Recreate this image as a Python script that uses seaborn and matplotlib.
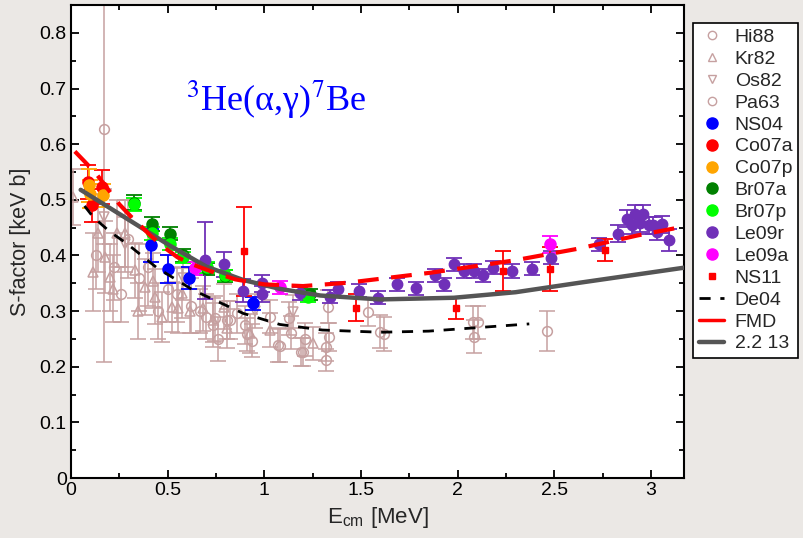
import numpy as np
import pandas as pd
import matplotlib
matplotlib.use('Agg')
import matplotlib.pyplot as plt
from matplotlib.lines import Line2D
import seaborn as sns

sns.set_theme(style='ticks')
plt.rcParams['font.family'] = ['Liberation Sans', 'DejaVu Sans']
plt.rcParams['mathtext.fontset'] = 'stix'

### data (E_cm in MeV, S in keV b, error)
hi88_e = [0.667, 0.736, 0.745, 0.805, 0.822, 0.857, 0.90, 0.909, 0.935, 1.03, 1.07, 1.08,
          1.13, 1.14, 1.19, 1.20, 1.21, 1.32, 1.32, 1.33, 1.336, 1.535, 1.60, 1.62,
          2.078, 2.086, 2.107, 2.46]
hi88_s = [0.300, 0.275, 0.287, 0.284, 0.284, 0.296, 0.275, 0.258, 0.247, 0.290, 0.239, 0.238,
          0.287, 0.261, 0.227, 0.227, 0.249, 0.236, 0.212, 0.308, 0.254, 0.299, 0.263, 0.259,
          0.280, 0.254, 0.280, 0.264]
hi88_err = [0.04, 0.04, 0.04, 0.035, 0.035, 0.035, 0.035, 0.03, 0.03, 0.03, 0.03, 0.03,
            0.03, 0.03, 0.025, 0.025, 0.03, 0.025, 0.02, 0.03, 0.025, 0.025, 0.03, 0.03,
            0.03, 0.03, 0.03, 0.036]

kr82_e = [0.012, 0.115, 0.141, 0.176, 0.200, 0.219, 0.236, 0.280, 0.330, 0.348, 0.383, 0.426,
          0.434, 0.470, 0.520, 0.555, 0.573, 0.615, 0.684, 0.736, 0.790, 0.805, 0.926, 1.03, 1.25]
kr82_s = [0.505, 0.370, 0.440, 0.397, 0.361, 0.340, 0.440, 0.440, 0.373, 0.300, 0.343, 0.355,
          0.326, 0.290, 0.307, 0.305, 0.332, 0.300, 0.305, 0.284, 0.308, 0.269, 0.260, 0.266, 0.242]
kr82_err = [0.05, 0.07, 0.07, 0.065, 0.06, 0.06, 0.06, 0.06, 0.05, 0.05, 0.05, 0.05,
            0.05, 0.045, 0.045, 0.045, 0.045, 0.04, 0.04, 0.04, 0.04, 0.035, 0.035, 0.03, 0.03]

os82_e = [0.17, 0.28, 0.58, 0.95, 1.15]
os82_s = [0.470, 0.420, 0.360, 0.300, 0.299]
os82_err = [0.05, 0.05, 0.04, 0.03, 0.03]

pa63_e = [0.13, 0.17, 0.22, 0.26, 0.297, 0.35, 0.40, 0.45, 0.50, 0.55, 0.62, 0.70, 0.76]
pa63_s = [0.400, 0.628, 0.380, 0.330, 0.430, 0.360, 0.380, 0.300, 0.340, 0.330, 0.310, 0.290, 0.250]
pa63_err = [0.06, 0.42, 0.06, 0.05, 0.07, 0.06, 0.07, 0.05, 0.06, 0.05, 0.05, 0.04, 0.04]

ns04_e = [0.414, 0.50, 0.61, 0.94]
ns04_s = [0.418, 0.376, 0.360, 0.314]
ns04_err = [0.03, 0.025, 0.02, 0.012]

co07a_e = [0.086, 0.107, 0.159]
co07a_s = [0.532, 0.490, 0.523]
co07a_err = [0.03, 0.03, 0.03]

co07p_e = [0.093, 0.100, 0.167]
co07p_s = [0.526, 0.511, 0.508]
co07p_err = [0.03, 0.025, 0.02]

br07a_e = [0.327, 0.420, 0.512, 0.581, 0.701, 0.794, 1.235]
br07a_s = [0.495, 0.457, 0.439, 0.400, 0.375, 0.363, 0.330]
br07a_err = [0.014, 0.013, 0.012, 0.011, 0.011, 0.01, 0.01]

br07p_e = [0.326, 0.420, 0.512, 0.581, 0.701, 0.794, 1.228]
br07p_s = [0.492, 0.440, 0.420, 0.397, 0.379, 0.364, 0.326]
br07p_err = [0.012, 0.012, 0.011, 0.01, 0.01, 0.01, 0.01]

le09r_e = [0.695, 0.79, 0.888, 0.99, 0.99, 1.185, 1.34, 1.383, 1.49, 1.587, 1.685, 1.785,
           1.883, 1.93, 1.983, 2.035, 2.086, 2.13, 2.18, 2.283, 2.383, 2.483, 2.73, 2.83,
           2.875, 2.90, 2.918, 2.945, 2.96, 2.987, 3.01, 3.03, 3.055, 3.094]
le09r_s = [0.391, 0.384, 0.337, 0.350, 0.331, 0.332, 0.326, 0.340, 0.337, 0.324, 0.348, 0.341,
           0.364, 0.348, 0.384, 0.372, 0.372, 0.364, 0.378, 0.372, 0.376, 0.396, 0.420, 0.439,
           0.466, 0.454, 0.475, 0.458, 0.475, 0.454, 0.454, 0.442, 0.456, 0.428]
le09r_err = [0.07, 0.022, 0.02, 0.015, 0.015, 0.012, 0.012, 0.012, 0.012, 0.012, 0.012, 0.012,
             0.012, 0.012, 0.012, 0.012, 0.012, 0.012, 0.012, 0.012, 0.012, 0.012, 0.012, 0.015,
             0.015, 0.015, 0.015, 0.015, 0.015, 0.015, 0.015, 0.015, 0.015, 0.02]

le09a_e = [0.64, 1.08, 2.478]
le09a_s = [0.377, 0.343, 0.420]
le09a_err = [0.012, 0.012, 0.015]

ns11_e = [0.893, 1.474, 1.99, 2.236, 2.475, 2.762]
ns11_s = [0.408, 0.306, 0.305, 0.372, 0.376, 0.410]
ns11_err = [0.08, 0.024, 0.02, 0.036, 0.04, 0.02]

de04_e = [0.07, 0.115, 0.20, 0.29, 0.44, 0.63, 0.89, 1.08, 1.30, 1.60, 1.85, 2.09, 2.37]
de04_s = [0.489, 0.469, 0.443, 0.421, 0.379, 0.338, 0.296, 0.276, 0.266, 0.262, 0.264, 0.270, 0.277]

fmd_e = [0.02, 0.07, 0.13, 0.20, 0.25, 0.31, 0.35, 0.41, 0.48, 0.55, 0.62, 0.72, 0.85, 1.00,
         1.20, 1.43, 1.86, 2.29, 2.62, 2.93, 3.17]
fmd_s = [0.587, 0.569, 0.547, 0.515, 0.492, 0.470, 0.457, 0.436, 0.415, 0.397, 0.385, 0.372,
         0.357, 0.348, 0.345, 0.351, 0.369, 0.391, 0.412, 0.436, 0.452]

m22_e = [0.05, 0.29, 0.51, 0.70, 0.89, 1.08, 1.29, 1.60, 1.98, 2.30, 2.63, 3.17]
m22_s = [0.518, 0.466, 0.418, 0.380, 0.356, 0.340, 0.328, 0.321, 0.324, 0.334, 0.351, 0.378]

brown = '#c6a0a0'

fig = plt.figure(figsize=(8.04, 5.38), dpi=100, facecolor='#ebe8e5')
ax = fig.add_axes([0.0883, 0.1115, 0.7624, 0.879])
ax.set_facecolor('white')

# old data sets, open symbols
for e, s, err, mk in [(hi88_e, hi88_s, hi88_err, 'o'), (kr82_e, kr82_s, kr82_err, '^'),
                      (os82_e, os82_s, os82_err, 'v'), (pa63_e, pa63_s, pa63_err, 'o')]:
    ax.errorbar(e, s, yerr=err, fmt=mk, ms=7, mfc='none', mec=brown, mew=1.1,
                ecolor=brown, elinewidth=1.1, capsize=6, capthick=1.1, zorder=2)

# newer data sets, filled symbols
sets = [(ns04_e, ns04_s, ns04_err, '#0000ff', 'o', 8),
        (co07a_e, co07a_s, co07a_err, '#ff0000', 'o', 8),
        (co07p_e, co07p_s, co07p_err, '#ffa500', 'o', 8),
        (br07a_e, br07a_s, br07a_err, '#008000', 'o', 8),
        (br07p_e, br07p_s, br07p_err, '#00ff00', 'o', 8),
        (le09r_e, le09r_s, le09r_err, '#7030b8', 'o', 7.5),
        (le09a_e, le09a_s, le09a_err, '#ff00ff', 'o', 8),
        (ns11_e, ns11_s, ns11_err, '#ff0000', 's', 5)]
for e, s, err, c, mk, ms in sets:
    ax.errorbar(e, s, yerr=err, fmt=mk, ms=ms, color=c, mec=c,
                elinewidth=1.3, capsize=6, capthick=1.3, zorder=3)

### theory curves
sns.lineplot(x=de04_e, y=de04_s, color='black', lw=2, sort=False, ax=ax, zorder=4)
ax.lines[-1].set_dashes([4, 3.5])
sns.lineplot(x=fmd_e, y=fmd_s, color='#ff0000', lw=3, sort=False, ax=ax, zorder=5)
ax.lines[-1].set_dashes([5, 3])
sns.lineplot(x=m22_e, y=m22_s, color='#555555', lw=3.2, sort=False, ax=ax, zorder=4)

ax.text(0.335, 0.80, r'$^{3}$He(α,γ)$^{7}$Be', color='#0000ff', fontsize=26,
        family=['Liberation Serif', 'DejaVu Serif'], ha='center', va='center',
        transform=ax.transAxes)

ax.set_xlim(0, 3.17)
ax.set_ylim(0, 0.85)
ax.set_xticks([0, 0.5, 1, 1.5, 2, 2.5, 3])
ax.set_xticklabels(['0', '0.5', '1', '1.5', '2', '2.5', '3'])
ax.set_yticks([0, 0.1, 0.2, 0.3, 0.4, 0.5, 0.6, 0.7, 0.8])
ax.set_yticklabels(['0', '0.1', '0.2', '0.3', '0.4', '0.5', '0.6', '0.7', '0.8'])
ax.set_xticks(np.arange(0, 3.2, 0.25), minor=True)
ax.set_yticks(np.arange(0, 0.86, 0.05), minor=True)
ax.tick_params(which='both', direction='in', top=True, right=True, width=1.3,
               labelsize=14, colors='black')
ax.tick_params(which='major', length=6, pad=3)
ax.tick_params(which='minor', length=3.5)
for sp in ax.spines.values():
    sp.set_linewidth(1.5)
    sp.set_color('black')

ax.set_xlabel(r'E$_\mathregular{cm}$ [MeV]', fontsize=16, labelpad=4)
ax.set_ylabel('S-factor [keV b]', fontsize=15.5, labelpad=6)

handles = [
    Line2D([], [], marker='o', ls='none', mfc='none', mec=brown, ms=6),
    Line2D([], [], marker='^', ls='none', mfc='none', mec=brown, ms=6),
    Line2D([], [], marker='v', ls='none', mfc='none', mec=brown, ms=6),
    Line2D([], [], marker='o', ls='none', mfc='none', mec=brown, ms=6),
    Line2D([], [], marker='o', ls='none', color='#0000ff', ms=8),
    Line2D([], [], marker='o', ls='none', color='#ff0000', ms=8),
    Line2D([], [], marker='o', ls='none', color='#ffa500', ms=8),
    Line2D([], [], marker='o', ls='none', color='#008000', ms=8),
    Line2D([], [], marker='o', ls='none', color='#00ff00', ms=8),
    Line2D([], [], marker='o', ls='none', color='#7030b8', ms=8),
    Line2D([], [], marker='o', ls='none', color='#ff00ff', ms=8),
    Line2D([], [], marker='s', ls='none', color='#ff0000', ms=5),
    Line2D([], [], color='black', lw=2, dashes=[4, 3.5]),
    Line2D([], [], color='#ff0000', lw=2.5),
    Line2D([], [], color='#555555', lw=3.2),
]
labels = ['Hi88', 'Kr82', 'Os82', 'Pa63', 'NS04', 'Co07a', 'Co07p', 'Br07a', 'Br07p',
          'Le09r', 'Le09a', 'NS11', 'De04', 'FMD', '2.2 13']
leg = fig.legend(handles, labels, loc='upper left', bbox_to_anchor=(0.862, 0.958),
                 bbox_transform=fig.transFigure, fontsize=14, frameon=True, fancybox=False,
                 borderaxespad=0, handlelength=1.3, handletextpad=0.55, labelspacing=0.22,
                 borderpad=0.3)
leg.get_frame().set_edgecolor('black')
leg.get_frame().set_linewidth(1.2)
leg.get_frame().set_facecolor('white')
leg.get_frame().set_alpha(1)

fig.savefig('out.png', dpi=100, facecolor=fig.get_facecolor())
